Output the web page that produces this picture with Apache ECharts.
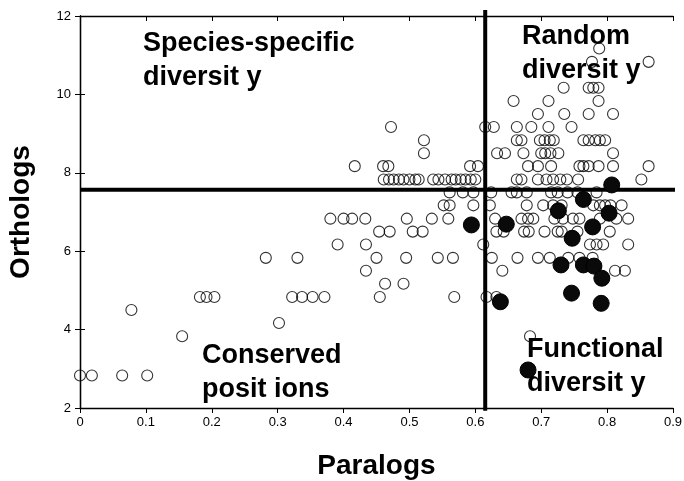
<!DOCTYPE html>
<html><head><meta charset="utf-8">
<script src="https://cdn.jsdelivr.net/npm/echarts@6/dist/echarts.min.js"></script>
<style>html,body{margin:0;padding:0;background:#fff}#c{width:684px;height:481px}</style>
</head><body><div id="c"></div>
<script>
// Tick labels
const xTickLabels = ['0','0.1','0.2','0.3','0.4','0.5','0.6','0.7','0.8','0.9'];
const yTickLabels = ['2','4','6','8','10','12'];
// Threshold lines (quadrant boundaries)
const paralogThreshold = 0.615;
const orthologThreshold = 7.57;
// Open circles: [paralogs, orthologs]
const openPoints = [
  [0.0,2.83],[0.018,2.83],[0.064,2.83],[0.102,2.83],
  [0.155,3.83],[0.683,3.83],
  [0.302,4.17],
  [0.078,4.5],
  [0.182,4.83],[0.192,4.83],[0.204,4.83],[0.322,4.83],[0.337,4.83],[0.353,4.83],[0.371,4.83],[0.455,4.83],[0.568,4.83],[0.617,4.83],[0.632,4.83],
  [0.463,5.17],[0.491,5.17],
  [0.434,5.5],[0.641,5.5],[0.812,5.5],[0.827,5.5],
  [0.282,5.83],[0.330,5.83],[0.450,5.83],[0.495,5.83],[0.543,5.83],[0.566,5.83],[0.625,5.83],[0.664,5.83],[0.695,5.83],[0.713,5.83],[0.741,5.83],[0.758,5.83],[0.778,5.83],
  [0.391,6.17],[0.434,6.17],[0.612,6.17],[0.774,6.17],[0.784,6.17],[0.794,6.17],[0.832,6.17],
  [0.454,6.5],[0.470,6.5],[0.505,6.5],[0.520,6.5],[0.632,6.5],[0.643,6.5],[0.674,6.5],[0.681,6.5],[0.705,6.5],[0.725,6.5],[0.731,6.5],[0.755,6.5],[0.804,6.5],
  [0.380,6.83],[0.400,6.83],[0.413,6.83],[0.433,6.83],[0.496,6.83],[0.534,6.83],[0.559,6.83],[0.630,6.83],[0.670,6.83],[0.680,6.83],[0.688,6.83],[0.720,6.83],[0.733,6.83],[0.748,6.83],[0.758,6.83],[0.789,6.83],[0.814,6.83],[0.832,6.83],
  [0.552,7.17],[0.561,7.17],[0.597,7.17],[0.622,7.17],[0.678,7.17],[0.703,7.17],[0.718,7.17],[0.731,7.17],[0.779,7.17],[0.789,7.17],[0.797,7.17],[0.805,7.17],[0.822,7.17],
  [0.561,7.5],[0.581,7.5],[0.597,7.5],[0.624,7.5],[0.655,7.5],[0.663,7.5],[0.678,7.5],[0.715,7.5],[0.725,7.5],[0.740,7.5],[0.755,7.5],[0.784,7.5],
  [0.461,7.83],[0.469,7.83],[0.476,7.83],[0.484,7.83],[0.491,7.83],[0.500,7.83],[0.509,7.83],[0.514,7.83],[0.536,7.83],[0.544,7.83],[0.554,7.83],[0.564,7.83],[0.570,7.83],[0.578,7.83],[0.585,7.83],[0.593,7.83],[0.600,7.83],[0.663,7.83],[0.670,7.83],[0.695,7.83],[0.708,7.83],[0.718,7.83],[0.729,7.83],[0.739,7.83],[0.756,7.83],[0.852,7.83],
  [0.417,8.17],[0.460,8.17],[0.468,8.17],[0.592,8.17],[0.604,8.17],[0.680,8.17],[0.695,8.17],[0.715,8.17],[0.758,8.17],[0.764,8.17],[0.772,8.17],[0.787,8.17],[0.809,8.17],[0.863,8.17],
  [0.522,8.5],[0.633,8.5],[0.645,8.5],[0.673,8.5],[0.700,8.5],[0.706,8.5],[0.714,8.5],[0.726,8.5],[0.809,8.5],
  [0.522,8.83],[0.663,8.83],[0.670,8.83],[0.698,8.83],[0.705,8.83],[0.713,8.83],[0.719,8.83],[0.764,8.83],[0.772,8.83],[0.782,8.83],[0.789,8.83],[0.797,8.83],
  [0.472,9.17],[0.615,9.17],[0.628,9.17],[0.663,9.17],[0.685,9.17],[0.711,9.17],[0.746,9.17],
  [0.695,9.5],[0.735,9.5],[0.772,9.5],[0.809,9.5],
  [0.658,9.83],[0.711,9.83],[0.787,9.83],
  [0.734,10.17],[0.772,10.17],[0.779,10.17],[0.787,10.17],
  [0.777,10.83],[0.863,10.83],
  [0.788,11.17]
];
// Filled circles: [paralogs, orthologs]
const filledPoints = [
  [0.594,6.67],[0.647,6.69],[0.638,4.71],[0.726,7.03],[0.764,7.32],[0.807,7.69],
  [0.803,6.97],[0.778,6.62],[0.747,6.33],[0.730,5.65],[0.764,5.65],[0.780,5.62],
  [0.792,5.31],[0.746,4.93],[0.791,4.67],[0.680,2.97]
];
// Quadrant labels
const quadrantLabels = [
  {text:'Species-specific\ndiversit y', left:143, top:27},
  {text:'Random\ndiversit y', left:522, top:20},
  {text:'Conserved\nposit ions', left:202, top:339},
  {text:'Functional\ndiversit y', left:527, top:333}
];

const chart = echarts.init(document.getElementById('c'), null, {renderer:'canvas'});
const labelFont = {fontFamily:'Liberation Sans, Arial, sans-serif', fontSize:13, color:'#000'};
const titleFont = {fontFamily:'Liberation Sans, Arial, sans-serif', fontSize:28, fontWeight:'bold', color:'#000'};
const axisLine = {show:true, lineStyle:{color:'#000', width:1.3}};
chart.setOption({
  animation:false,
  backgroundColor:'#fff',
  grid:{left:80, right:11, top:16, bottom:73, containLabel:false, outerBoundsMode:'none'},
  xAxis:[{
    type:'value', min:0, max:0.9, interval:0.1, position:'bottom',
    axisLine:axisLine, axisTick:{show:true, inside:false, length:5, lineStyle:{color:'#000', width:1}},
    axisLabel:Object.assign({margin:8, formatter:(v)=>xTickLabels[Math.round(v*10)]}, labelFont),
    splitLine:{show:false},
    name:'Paralogs', nameLocation:'middle', nameGap:44, nameTextStyle:titleFont
  },{
    type:'value', min:0, max:0.9, interval:0.1, position:'top',
    axisLine:axisLine, axisTick:{show:true, inside:true, length:5, lineStyle:{color:'#000', width:1}},
    axisLabel:{show:false}, splitLine:{show:false}
  }],
  yAxis:[{
    type:'value', min:2, max:12, interval:2, position:'left',
    axisLine:axisLine, axisTick:{show:true, inside:true, length:5, lineStyle:{color:'#000', width:1}},
    axisLabel:Object.assign({margin:9, formatter:(v)=>yTickLabels[Math.round((v-2)/2)]}, labelFont),
    splitLine:{show:false},
    name:'Orthologs', nameLocation:'middle', nameGap:45, nameRotate:90, nameTextStyle:titleFont
  },{
    type:'value', min:2, max:12, interval:2, position:'right',
    axisLine:axisLine, axisTick:{show:true, inside:true, length:5, lineStyle:{color:'#000', width:1}},
    axisLabel:{show:false}, splitLine:{show:false}
  }],
  series:[
    {type:'scatter', data:openPoints, symbol:'circle', symbolSize:11,
      itemStyle:{color:'rgba(255,255,255,0)', borderColor:'#000', borderWidth:1.1}, z:3},
    {type:'line', data:[[0,orthologThreshold],[0.912,orthologThreshold]], symbol:'none', clip:false,
      lineStyle:{color:'#000', width:4}, z:4},
    {type:'line', data:[[paralogThreshold,1.93],[paralogThreshold,12.15]], symbol:'none', clip:false,
      lineStyle:{color:'#000', width:4}, z:4},
    {type:'scatter', data:filledPoints, symbol:'circle', symbolSize:16,
      itemStyle:{color:'#0a0a0a', borderColor:'#000', borderWidth:1, opacity:1}, z:5}
  ],
  graphic: quadrantLabels.map(q=>({
    type:'text', left:q.left, top:q.top, z:10,
    style:{text:q.text, fill:'#000', font:'bold 27px "Liberation Sans", Arial, sans-serif', lineHeight:34}
  }))
});
</script></body></html>
